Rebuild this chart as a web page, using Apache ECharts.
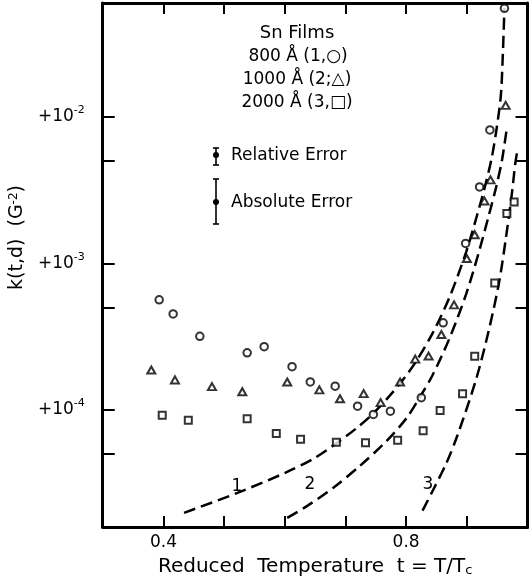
<!DOCTYPE html>
<html>
<head>
<meta charset="utf-8">
<script src="https://cdn.jsdelivr.net/npm/echarts@6/dist/echarts.min.js"></script>
<style>
html,body{margin:0;padding:0;background:#fff;}
#chart{width:529px;height:585px;}
</style>
</head>
<body>
<div id="chart"></div>
<script>
// ---- data (reduced temperature t, k in G^-2) ----
const circleT = [0.393, 0.416, 0.460, 0.538, 0.566, 0.612, 0.642, 0.683, 0.720, 0.746, 0.774, 0.825, 0.861, 0.898, 0.921, 0.938, 0.962];
const circleK = [5.64e-4, 4.52e-4, 3.18e-4, 2.45e-4, 2.70e-4, 1.97e-4, 1.55e-4, 1.45e-4, 1.06e-4, 9.3e-5, 9.8e-5, 1.21e-4, 3.93e-4, 1.37e-3, 3.33e-3, 8.15e-3, 5.52e-2];

const triT = [0.380, 0.419, 0.480, 0.530, 0.604, 0.657, 0.691, 0.730, 0.758, 0.790, 0.815, 0.837, 0.858, 0.879, 0.900, 0.913, 0.929, 0.939, 0.964];
const triK = [1.87e-4, 1.60e-4, 1.44e-4, 1.33e-4, 1.55e-4, 1.37e-4, 1.19e-4, 1.29e-4, 1.12e-4, 1.55e-4, 2.22e-4, 2.33e-4, 3.27e-4, 5.21e-4, 1.08e-3, 1.57e-3, 2.67e-3, 3.72e-3, 1.20e-2];

const sqT = [0.398, 0.441, 0.538, 0.586, 0.626, 0.685, 0.733, 0.786, 0.828, 0.856, 0.893, 0.913, 0.946, 0.966, 0.978];
const sqK = [9.2e-5, 8.5e-5, 8.7e-5, 6.9e-5, 6.3e-5, 6.0e-5, 5.96e-5, 6.2e-5, 7.2e-5, 9.9e-5, 1.29e-4, 2.32e-4, 7.36e-4, 2.19e-3, 2.63e-3];

// theoretical curves 1, 2, 3 (dashed)
const curve1T = [0.434, 0.522, 0.604, 0.647, 0.686, 0.719, 0.745, 0.773, 0.797, 0.817, 0.843, 0.871, 0.899, 0.917, 0.931, 0.941, 0.949, 0.956, 0.959, 0.962];
const curve1K = [1.98e-5, 2.71e-5, 3.77e-5, 4.63e-5, 5.95e-5, 7.54e-5, 9.39e-5, 1.25e-4, 1.65e-4, 2.16e-4, 3.30e-4, 5.81e-4, 1.20e-3, 2.14e-3, 3.49e-3, 5.25e-3, 8.28e-3, 1.39e-2, 2.45e-2, 5.55e-2];
const curve2T = [0.604, 0.637, 0.680, 0.724, 0.768, 0.801, 0.822, 0.843, 0.871, 0.899, 0.920, 0.936, 0.948, 0.958, 0.966];
const curve2K = [1.83e-5, 2.21e-5, 2.94e-5, 4.15e-5, 6.14e-5, 8.82e-5, 1.21e-4, 1.71e-4, 3.05e-4, 6.19e-4, 1.20e-3, 2.11e-3, 3.28e-3, 5.09e-3, 8.41e-3];
const curve3T = [0.827, 0.843, 0.866, 0.884, 0.915, 0.936, 0.953, 0.964, 0.974, 0.980, 0.984];
const curve3K = [2.05e-5, 2.76e-5, 4.30e-5, 6.60e-5, 1.60e-4, 3.46e-4, 7.36e-4, 1.45e-3, 2.94e-3, 4.85e-3, 6.14e-3];

// axes
const xTicks = [0.4, 0.5, 0.6, 0.7, 0.8, 0.9];
const xLabels = [0.4, 0.8];
const yTicksK = [5e-5, 1e-4, 5e-4, 1e-3, 5e-3, 1e-2];
const yLabelsK = [1e-4, 1e-3, 1e-2];
const yMinK = 1.585e-5, yMaxK = 6.0e-2;

const curveLabels = ['1', '2', '3'];
const legendLines = ['800 Å (1,○)', '1000 Å (2;△)', '2000 Å (3,□)'];

// ---- chart ----
const FONT = 'DejaVu Sans';
const lg = Math.log10;
const pts = (T, K) => T.map((t, i) => [t, lg(K[i])]);
const chart = echarts.init(document.getElementById('chart'), null, {renderer: 'canvas'});

const axisLineStyle = {color: '#000', width: 3};
const tickStyle = {color: '#000', width: 2};

const scatterStyle = {color: '#fff', borderColor: '#000', borderWidth: 2};
const dashStyle = {color: '#000', width: 2.5, type: [12, 6]};
const smoothAmt = 0.3;

const option = {
  animation: false,
  backgroundColor: '#fff',
  textStyle: {fontFamily: FONT, color: '#000'},
  grid: {left: 101, right: 1.5, top: 3, bottom: 58},
  xAxis: [{
    type: 'value', min: 0.3, max: 1.0, position: 'bottom',
    axisLine: {onZero: false, lineStyle: axisLineStyle},
    axisTick: {inside: true, length: 11, lineStyle: tickStyle, customValues: xTicks},
    axisLabel: {customValues: xLabels, formatter: v => v.toFixed(1), fontSize: 17, margin: 7, color: '#000', fontFamily: FONT},
    splitLine: {show: false},
    name: 'Reduced  Temperature  t = T/T{sub|c}',
    nameLocation: 'middle', nameGap: 27,
    nameTextStyle: {fontSize: 20, color: '#000', fontFamily: FONT,
      rich: {sub: {fontSize: 13, verticalAlign: 'bottom', lineHeight: 14, padding: [8, 0, 0, 0], fontFamily: FONT}}}
  }, {
    type: 'value', min: 0.3, max: 1.0, position: 'top',
    axisLine: {onZero: false, lineStyle: axisLineStyle},
    axisTick: {inside: true, length: 11, lineStyle: tickStyle, customValues: xTicks},
    axisLabel: {show: false},
    splitLine: {show: false}
  }],
  yAxis: [{
    type: 'value', min: lg(yMinK), max: lg(yMaxK), position: 'left',
    axisLine: {onZero: false, lineStyle: axisLineStyle},
    axisTick: {inside: true, length: 12, lineStyle: tickStyle, customValues: yTicksK.map(lg)},
    axisLabel: {
      customValues: yLabelsK.map(lg), margin: 18,
      formatter: v => '{a|+10}{s|' + Math.round(v) + '}',
      rich: {
        a: {fontSize: 17, lineHeight: 24, fontFamily: FONT, color: '#000'},
        s: {fontSize: 11, lineHeight: 11, verticalAlign: 'top', fontFamily: FONT, color: '#000'}
      }
    },
    splitLine: {show: false},
    name: 'k(t,d)  (G{s|-2})',
    nameLocation: 'middle', nameGap: 62, nameRotate: 90,
    nameTextStyle: {fontSize: 19, color: '#000', fontFamily: FONT, padding: [0, 0, 0, 55],
      rich: {s: {fontSize: 12, lineHeight: 12, verticalAlign: 'top', fontFamily: FONT}}}
  }, {
    type: 'value', min: lg(yMinK), max: lg(yMaxK), position: 'right',
    axisLine: {onZero: false, lineStyle: axisLineStyle},
    axisTick: {inside: true, length: 12, lineStyle: tickStyle, customValues: yTicksK.map(lg)},
    axisLabel: {show: false},
    splitLine: {show: false}
  }],
  series: [
    {type: 'line', name: 'curve 1', data: pts(curve1T, curve1K), showSymbol: false, symbol: 'none', smooth: smoothAmt, lineStyle: dashStyle, z: 2},
    {type: 'line', name: 'curve 2', data: pts(curve2T, curve2K), showSymbol: false, symbol: 'none', smooth: smoothAmt, lineStyle: dashStyle, z: 2},
    {type: 'line', name: 'curve 3', data: pts(curve3T, curve3K), showSymbol: false, symbol: 'none', smooth: smoothAmt, lineStyle: dashStyle, z: 2},
    {type: 'scatter', name: '800 Å', data: pts(circleT, circleK), symbol: 'circle', symbolSize: 7.5, itemStyle: scatterStyle, z: 3},
    {type: 'scatter', name: '1000 Å', data: pts(triT, triK), symbol: 'triangle', symbolSize: [8, 7], itemStyle: scatterStyle, z: 3},
    {type: 'scatter', name: '2000 Å', data: pts(sqT, sqK), symbol: 'rect', symbolSize: 7, itemStyle: scatterStyle, z: 3}
  ],
  graphic: [
    {type: 'text', x: 297, y: 24, style: {text: 'Sn Films', font: '18px "DejaVu Sans"', fill: '#000', align: 'center'}},
    {type: 'text', x: 298, y: 48, style: {text: legendLines[0], font: '17px "DejaVu Sans"', fill: '#000', align: 'center'}},
    {type: 'text', x: 297, y: 71, style: {text: legendLines[1], font: '17px "DejaVu Sans"', fill: '#000', align: 'center'}},
    {type: 'text', x: 297, y: 94, style: {text: legendLines[2], font: '17px "DejaVu Sans"', fill: '#000', align: 'center'}},
    // relative error icon
    {type: 'line', shape: {x1: 216, y1: 148, x2: 216, y2: 165}, style: {stroke: '#000', lineWidth: 1.6}},
    {type: 'line', shape: {x1: 213, y1: 148, x2: 219, y2: 148}, style: {stroke: '#000', lineWidth: 1.6}},
    {type: 'line', shape: {x1: 213, y1: 165, x2: 219, y2: 165}, style: {stroke: '#000', lineWidth: 1.6}},
    {type: 'circle', shape: {cx: 216, cy: 155, r: 3}, style: {fill: '#000'}},
    {type: 'text', x: 231, y: 147, style: {text: 'Relative Error', font: '17px "DejaVu Sans"', fill: '#000'}},
    // absolute error icon
    {type: 'line', shape: {x1: 216, y1: 179, x2: 216, y2: 224}, style: {stroke: '#000', lineWidth: 1.6}},
    {type: 'line', shape: {x1: 213, y1: 179, x2: 219, y2: 179}, style: {stroke: '#000', lineWidth: 1.6}},
    {type: 'line', shape: {x1: 213, y1: 224, x2: 219, y2: 224}, style: {stroke: '#000', lineWidth: 1.6}},
    {type: 'circle', shape: {cx: 216, cy: 202, r: 3}, style: {fill: '#000'}},
    {type: 'text', x: 231, y: 194, style: {text: 'Absolute Error', font: '17px "DejaVu Sans"', fill: '#000'}},
    // curve labels
    {type: 'text', x: 237, y: 478, style: {text: curveLabels[0], font: '17px "DejaVu Sans"', fill: '#000', align: 'center'}},
    {type: 'text', x: 310, y: 476, style: {text: curveLabels[1], font: '17px "DejaVu Sans"', fill: '#000', align: 'center'}},
    {type: 'text', x: 428, y: 476, style: {text: curveLabels[2], font: '17px "DejaVu Sans"', fill: '#000', align: 'center'}}
  ]
};
chart.setOption(option);
</script>
</body>
</html>
